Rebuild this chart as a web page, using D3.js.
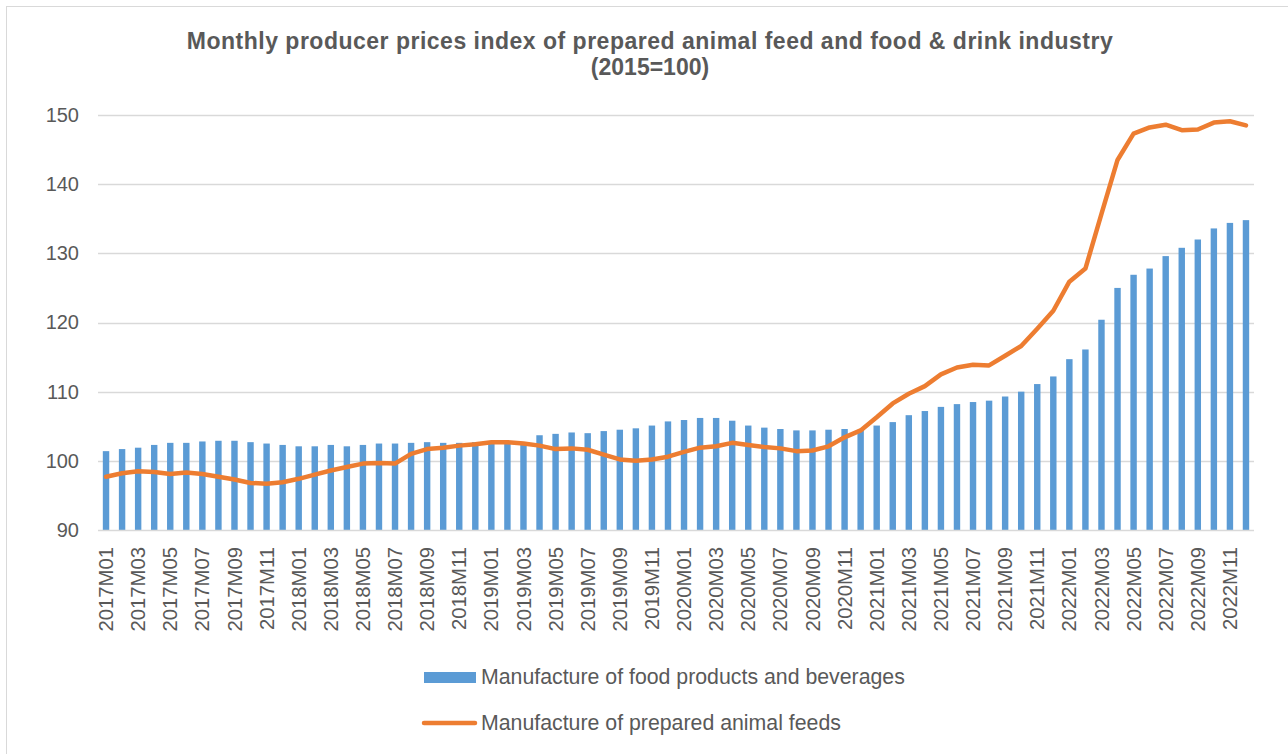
<!DOCTYPE html>
<html>
<head>
<meta charset="utf-8">
<script src="https://cdn.jsdelivr.net/npm/d3@7"></script>
<style>
  html, body { margin: 0; padding: 0; background: #fff; }
  svg { display: block; font-family: "Liberation Sans", Arial, sans-serif; }
</style>
</head>
<body>
<svg id="chart" width="1288" height="754"></svg>
<script>
const months = [];
const years = [2017, 2018, 2019, 2020, 2021, 2022];
years.forEach(y => { for (let m = 1; m <= 12; m++) months.push(y + "M" + String(m).padStart(2, "0")); });

const foodValues = [
  101.4, 101.7, 101.9, 102.3, 102.6, 102.6, 102.8, 102.9, 102.9, 102.7, 102.5, 102.3,
  102.1, 102.1, 102.3, 102.1, 102.3, 102.5, 102.5, 102.6, 102.7, 102.6, 102.6, 102.7,
  102.8, 102.8, 102.6, 103.7, 103.9, 104.1, 104.0, 104.3, 104.5, 104.7, 105.1, 105.7,
  105.9, 106.2, 106.2, 105.8, 105.1, 104.8, 104.6, 104.4, 104.4, 104.5, 104.6, 104.5,
  105.1, 105.6, 106.6, 107.2, 107.8, 108.2, 108.5, 108.7, 109.3, 110.0, 111.1, 112.2,
  114.7, 116.1, 120.4, 125.0, 126.9, 127.8, 129.6, 130.8, 132.0, 133.6, 134.4, 134.8
];
const feedValues = [
  97.7, 98.2, 98.5, 98.4, 98.1, 98.3, 98.1, 97.7, 97.3, 96.8, 96.7, 96.9,
  97.4, 98.0, 98.6, 99.1, 99.6, 99.7, 99.6, 101.0, 101.7, 101.9, 102.2, 102.4,
  102.7, 102.7, 102.5, 102.2, 101.7, 101.8, 101.6, 100.9, 100.2, 100.0, 100.2, 100.6,
  101.3, 101.9, 102.1, 102.6, 102.3, 102.0, 101.8, 101.4, 101.5, 102.1, 103.4, 104.4,
  106.3, 108.3, 109.7, 110.8, 112.5, 113.5, 113.9, 113.8, 115.2, 116.6, 119.1, 121.7,
  125.9, 127.8, 135.7, 143.5, 147.3, 148.2, 148.6, 147.8, 147.9, 148.9, 149.1, 148.5
];
const yTicks = [90, 100, 110, 120, 130, 140, 150];
const titleLines = ["Monthly producer prices index of prepared animal feed and food & drink industry", "(2015=100)"];
const seriesNames = ["Manufacture of food products and beverages", "Manufacture of prepared animal feeds"];

const textColor = "#595959";
const gridColor = "#d9d9d9";
const barColor = "#5b9bd5";
const lineColor = "#ed7d31";

const svg = d3.select("#chart");
svg.append("rect").attr("x", 0).attr("y", 0).attr("width", 1288).attr("height", 754).attr("fill", "#fff");
svg.append("rect").attr("x", 6.5).attr("y", 6.5).attr("width", 1300).attr("height", 800)
  .attr("fill", "none").attr("stroke", gridColor).attr("stroke-width", 1);

const plotLeft = 98, plotRight = 1254, plotTop = 115, plotBottom = 530;
const x = d3.scaleBand().domain(months).range([plotLeft, plotRight]).paddingInner(0.6).paddingOuter(0.3);
const y = d3.scaleLinear().domain([90, 150]).range([plotBottom, plotTop]);

// Gridlines
svg.append("g").selectAll("line").data(yTicks.filter(t => t !== 90)).join("line")
  .attr("x1", plotLeft).attr("x2", plotRight)
  .attr("y1", d => Math.round(y(d)) + 0.5).attr("y2", d => Math.round(y(d)) + 0.5)
  .attr("stroke", gridColor).attr("stroke-width", 1.5);

// Y axis labels
const yAxis = d3.axisLeft(y).tickValues(yTicks).tickSize(0).tickPadding(19);
const gy = svg.append("g").attr("transform", `translate(${plotLeft},0)`).call(yAxis);
gy.select(".domain").remove();
gy.selectAll("text").attr("fill", textColor).style("font-size", "20px")
  .style("font-family", '"Liberation Sans", Arial, sans-serif');

// Bars
svg.append("g").selectAll("rect").data(months).join("rect")
  .attr("x", d => x(d))
  .attr("width", x.bandwidth())
  .attr("y", (d, i) => y(foodValues[i]))
  .attr("height", (d, i) => y(90) - y(foodValues[i]))
  .attr("fill", barColor);

// X axis
const xAxis = d3.axisBottom(x).tickValues(months.filter((d, i) => i % 2 === 0)).tickSize(0).tickPadding(0);
const gx = svg.append("g").attr("transform", `translate(0,${plotBottom})`).call(xAxis);
gx.select(".domain").remove();
svg.append("line").attr("x1", plotLeft).attr("x2", plotRight).attr("y1", plotBottom + 0.5).attr("y2", plotBottom + 0.5)
  .attr("stroke", gridColor).attr("stroke-width", 1.5);
gx.selectAll("text")
  .attr("fill", textColor).style("font-size", "20.3px")
  .style("font-family", '"Liberation Sans", Arial, sans-serif')
  .attr("text-anchor", "end")
  .attr("transform", "rotate(-90)")
  .attr("x", -17).attr("y", 0).attr("dy", "0.35em");

// Line
const line = d3.line()
  .x((d, i) => x(months[i]) + x.bandwidth() / 2)
  .y(d => y(d));
svg.append("path").datum(feedValues)
  .attr("d", line).attr("fill", "none")
  .attr("stroke", lineColor).attr("stroke-width", 4.5)
  .attr("stroke-linejoin", "round").attr("stroke-linecap", "round");

// Title
const title = svg.append("text").attr("x", 650).attr("text-anchor", "middle")
  .attr("fill", textColor).style("font-weight", "bold").style("font-size", "23px");
title.selectAll("tspan").data(titleLines).join("tspan")
  .attr("x", 650).attr("y", (d, i) => 48.5 + i * 26)
  .style("letter-spacing", (d, i) => i === 0 ? "0.5px" : "0px")
  .text(d => d);

// Legend
const lg = svg.append("g");
lg.append("rect").attr("x", 424).attr("y", 672).attr("width", 52).attr("height", 11).attr("fill", barColor);
lg.append("line").attr("x1", 424).attr("x2", 475).attr("y1", 723).attr("y2", 723)
  .attr("stroke", lineColor).attr("stroke-width", 4.5).attr("stroke-linecap", "round");
lg.selectAll("text").data(seriesNames).join("text")
  .attr("x", 481).attr("y", (d, i) => 684 + i * 46)
  .attr("fill", textColor).style("font-size", "21.3px").text(d => d);
</script>
</body>
</html>
